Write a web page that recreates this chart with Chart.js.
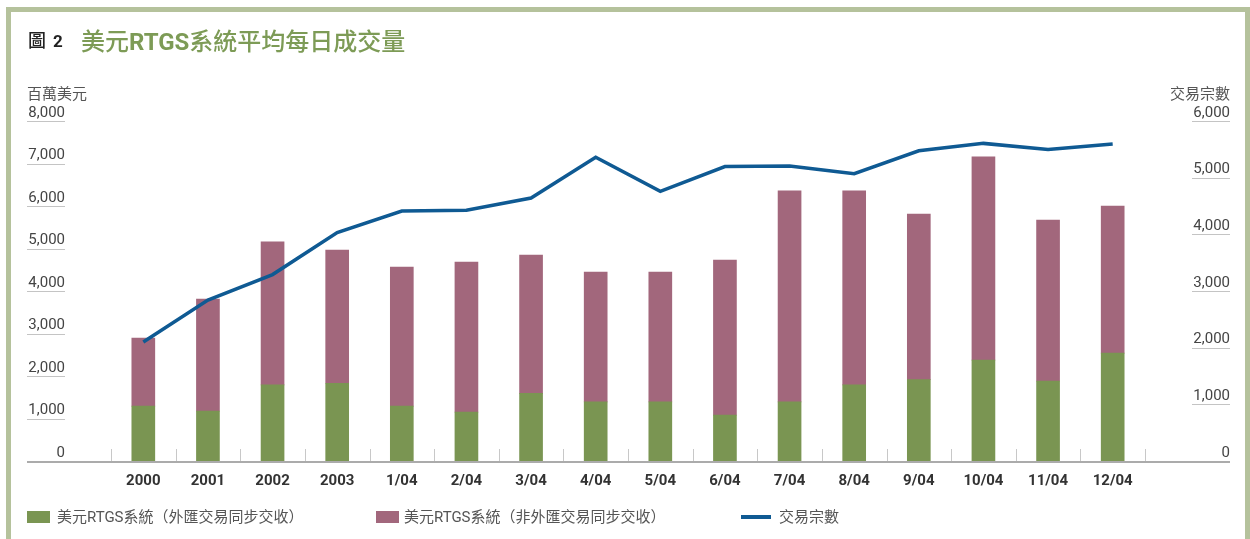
<!DOCTYPE html>
<html>
<head>
<meta charset="utf-8">
<script src="https://cdn.jsdelivr.net/npm/chart.js@4/dist/chart.umd.min.js"></script>
<style>
  html, body { margin: 0; padding: 0; background: #fff; }
  body { width: 1250px; height: 539px; position: relative; overflow: hidden;
         font-family: Roboto, "Noto Sans CJK TC", sans-serif; }
  #frame { position: absolute; left: 6px; top: 7px; width: 1244px; height: 620px;
           border: 5px solid #b5c29c; box-sizing: border-box; }
  #wrap { position: absolute; left: 0; top: 0; width: 1250px; height: 539px; }
  .title { position: absolute; top: 22px; white-space: nowrap; }
  .title .num { position: absolute; left: 28px; top: 4px; font-size: 17px; color: #222;
                font-weight: bold; font-family: Roboto, "Noto Sans CJK TC"; }
  .title .num .zi { font-weight: 500; font-size: 18px; margin-right: 7px; }
  .title .txt { position: absolute; left: 81px; top: 0; font-size: 24px; color: #7d9b56; font-weight: 500;
                font-family: Roboto, "Noto Sans CJK TC"; }
  .title .txt b { font-weight: bold; }
  .cap { position: absolute; top: 82px; font-size: 15px; color: #555;
         font-family: "Noto Sans CJK TC", sans-serif; }
  .legend { position: absolute; top: 506px; left: 0; font-size: 15px; color: #555;
            font-family: Roboto, "Noto Sans CJK TC", sans-serif; }
  .legend .item { position: absolute; white-space: nowrap; top: 0; line-height: 22px; }
  .legend .sw { position: absolute; top: 5px; width: 23px; height: 12px; }
  .legend .ln { position: absolute; top: 9px; width: 30px; height: 4px; background: #0f5a93; }
</style>
</head>
<body>
<div id="frame"></div>
<div id="wrap"><canvas id="grafico"></canvas></div>
<div class="title"><span class="num"><span class="zi">圖</span>2</span><span class="txt">美元<b>RTGS</b>系統平均每日成交量</span></div>
<div class="cap" style="left:27px">百萬美元</div>
<div class="cap" style="right:20px">交易宗數</div>
<div class="legend">
  <div class="sw" style="left:27px;background:#7a9552"></div>
  <div class="item" style="left:57px">美元RTGS系統（外匯交易同步交收）</div>
  <div class="sw" style="left:376px;background:#a2677c"></div>
  <div class="item" style="left:404px">美元RTGS系統（非外匯交易同步交收）</div>
  <div class="ln" style="left:741px"></div>
  <div class="item" style="left:779px">交易宗數</div>
</div>
<script>
const categorias = ['2000', '2001', '2002', '2003', '1/04', '2/04', '3/04', '4/04',
                    '5/04', '6/04', '7/04', '8/04', '9/04', '10/04', '11/04', '12/04'];
// 百萬美元
const cambioSincrono = [1290, 1175, 1790, 1830, 1290, 1150, 1590, 1390,
                        1390, 1080, 1390, 1790, 1915, 2375, 1880, 2540];
const naoCambio = [1605, 2635, 3365, 3135, 3275, 3530, 3255, 3055,
                   3055, 3650, 4965, 4565, 3895, 4780, 3790, 3460];
// 交易宗數
const transacoes = [2100, 2840, 3290, 4030, 4410, 4425, 4640, 5360,
                    4760, 5195, 5205, 5070, 5475, 5605, 5495, 5595];

const VERDE = '#7a9552';
const ROXO = '#a2677c';
const AZUL = '#0f5a93';

// sublinhado dos rótulos, eixo de base e marquinhas entre categorias
const extras = {
  id: 'extras',
  beforeDatasetsDraw(chart) {
    const { ctx, scales: { x, y, y1 } } = chart;
    ctx.save();
    ctx.strokeStyle = '#c4c4c4';
    ctx.lineWidth = 1.2;
    y.ticks.forEach(t => {
      if (t.value === 0) return;
      const py = Math.round(y.getPixelForValue(t.value)) + 0.5;
      ctx.beginPath(); ctx.moveTo(27, py); ctx.lineTo(65, py); ctx.stroke();
    });
    y1.ticks.forEach(t => {
      if (t.value === 0) return;
      const py = Math.round(y1.getPixelForValue(t.value)) + 0.5;
      ctx.beginPath(); ctx.moveTo(1192, py); ctx.lineTo(1230, py); ctx.stroke();
    });
    ctx.strokeStyle = '#c8c8c8';
    ctx.lineWidth = 1;
    const base = y.getPixelForValue(0);
    for (let i = 0; i <= categorias.length; i++) {
      const px = Math.round(x.getPixelForValue(i - 0.5)) + 0.5;
      ctx.beginPath(); ctx.moveTo(px, base - 12); ctx.lineTo(px, base); ctx.stroke();
    }
    ctx.restore();
  },
  afterDatasetsDraw(chart) {
    const { ctx, scales: { y } } = chart;
    const base = y.getPixelForValue(0);
    ctx.save();
    ctx.strokeStyle = '#ababab';
    ctx.lineWidth = 2;
    ctx.beginPath(); ctx.moveTo(27, base + 1); ctx.lineTo(1230, base + 1); ctx.stroke();
    ctx.restore();
  }
};

new Chart(document.getElementById('grafico'), {
  data: {
    labels: categorias,
    datasets: [
      {
        type: 'line',
        label: '交易宗數',
        data: transacoes,
        yAxisID: 'y1',
        borderColor: AZUL,
        borderWidth: 3.5,
        pointRadius: 0,
        tension: 0,
        order: 0
      },
      {
        type: 'bar',
        label: '美元RTGS系統（外匯交易同步交收）',
        data: cambioSincrono,
        backgroundColor: VERDE,
        barThickness: 23,
        stack: 'a',
        order: 1
      },
      {
        type: 'bar',
        label: '美元RTGS系統（非外匯交易同步交收）',
        data: naoCambio,
        backgroundColor: ROXO,
        barThickness: 23,
        stack: 'a',
        order: 1
      }
    ]
  },
  options: {
    responsive: true,
    maintainAspectRatio: false,
    animation: false,
    layout: { padding: { left: 27, right: 20, top: 121, bottom: 0 } },
    plugins: { legend: { display: false }, tooltip: { enabled: false } },
    scales: {
      x: {
        stacked: true,
        grid: { display: false, drawTicks: false },
        border: { display: false },
        ticks: { color: '#333', padding: 11, font: { family: 'Roboto', size: 15, weight: 'bold' } },
        afterFit: s => { s.height = 78; }
      },
      y: {
        stacked: true,
        position: 'left',
        min: 0, max: 8000,
        grid: { display: false, drawTicks: false },
        border: { display: false },
        ticks: {
          stepSize: 1000,
          crossAlign: 'near',
          padding: 46,
          labelOffset: -8,
          color: '#444',
          font: { family: 'Roboto', size: 15 },
          callback: v => v.toLocaleString('en-US')
        },
        afterFit: s => { s.width = 84; }
      },
      y1: {
        position: 'right',
        min: 0, max: 6000,
        grid: { display: false, drawTicks: false },
        border: { display: false },
        ticks: {
          stepSize: 1000,
          crossAlign: 'far',
          labelOffset: -8,
          color: '#444',
          font: { family: 'Roboto', size: 15 },
          callback: v => v.toLocaleString('en-US')
        },
        afterFit: s => { s.width = 85; }
      }
    }
  },
  plugins: [extras]
});
</script>
</body>
</html>
